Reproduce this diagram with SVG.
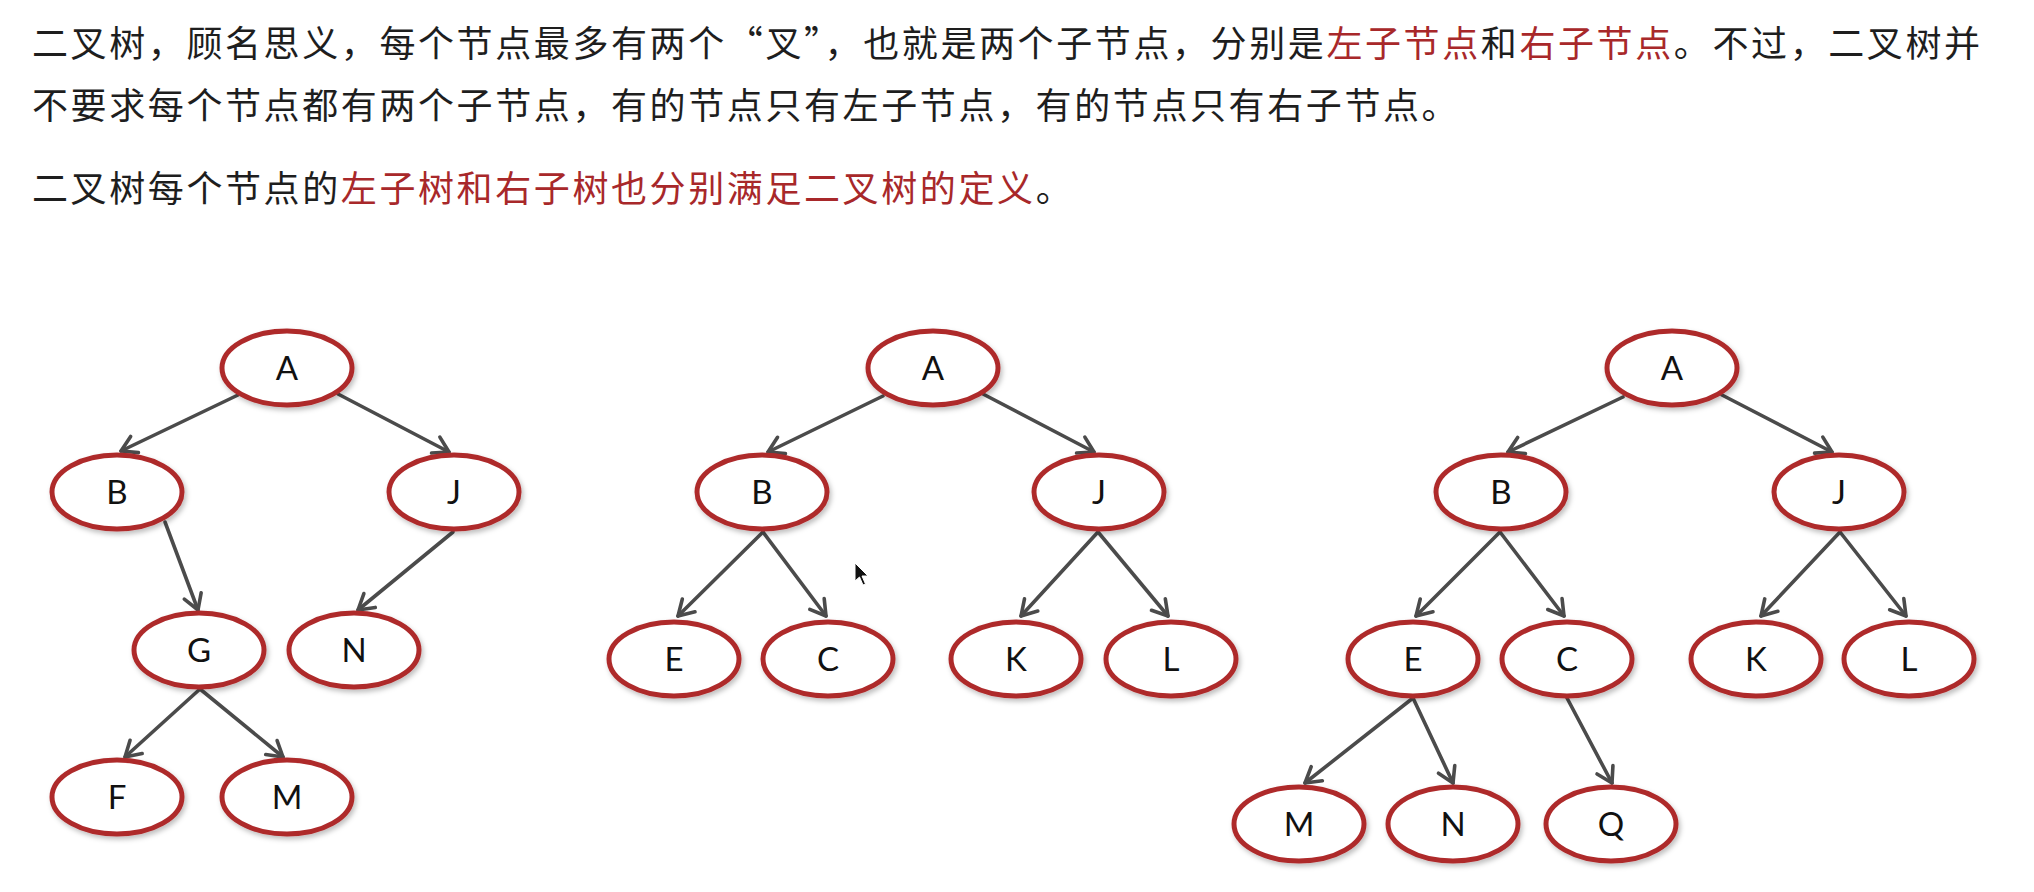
<svg xmlns="http://www.w3.org/2000/svg" width="2034" height="892" viewBox="0 0 2034 892">
<style>
.para{font-family:"Noto Sans CJK SC","Noto Sans",sans-serif;font-size:36px;letter-spacing:2.6px;fill:#1e1e1e}
.red{fill:#a8282a}
.node ellipse{fill:#ffffff;stroke:#ae2a2c;stroke-width:5;filter:url(#sh)}
.node text{font-family:Lato,"Open Sans",sans-serif;font-size:33px;fill:#111;text-anchor:middle}
.edge{stroke:#4b4b4b;stroke-width:3.6;fill:none;stroke-linecap:round;marker-end:url(#arr)}
</style>
<defs>
<filter id="sh" x="-20%" y="-20%" width="140%" height="150%">
<feDropShadow dx="2" dy="3" stdDeviation="2.5" flood-color="#000" flood-opacity="0.25"/>
</filter>
<marker id="arr" markerUnits="userSpaceOnUse" markerWidth="26" markerHeight="26" viewBox="-19 -13 26 26" refX="0" refY="0" orient="auto">
<path d="M -15 -9 L 0 0 L -15 9" fill="none" stroke="#4b4b4b" stroke-width="3.6" stroke-linecap="round" stroke-linejoin="round"/>
</marker>
</defs>
<rect width="2034" height="892" fill="#ffffff"/>

<g id="text">
<text class="para" x="32" y="57">二叉树，顾名思义，每个节点最多有两个“叉”，也就是两个子节点，分别是<tspan class="red">左子节点</tspan>和<tspan class="red">右子节点</tspan>。不过，二叉树并</text>
<text class="para" x="32" y="119">不要求每个节点都有两个子节点，有的节点只有左子节点，有的节点只有右子节点。</text>
<text class="para" x="32" y="202">二叉树每个节点的<tspan class="red">左子树和右子树也分别满足二叉树的定义</tspan>。</text>
</g>

<g id="connectors">
<line class="edge" x1="238" y1="395" x2="121" y2="451"/>
<line class="edge" x1="338" y1="394" x2="449" y2="452"/>
<line class="edge" x1="165" y1="522" x2="198" y2="610"/>
<line class="edge" x1="453" y1="532" x2="358" y2="610"/>
<line class="edge" x1="200" y1="689" x2="125" y2="757"/>
<line class="edge" x1="200" y1="689" x2="283" y2="757"/>

<line class="edge" x1="883" y1="396" x2="768" y2="452"/>
<line class="edge" x1="983" y1="394" x2="1094" y2="452"/>
<line class="edge" x1="763" y1="532" x2="678" y2="616"/>
<line class="edge" x1="763" y1="532" x2="826" y2="616"/>
<line class="edge" x1="1098" y1="532" x2="1021" y2="616"/>
<line class="edge" x1="1098" y1="532" x2="1168" y2="616"/>

<line class="edge" x1="1623" y1="397" x2="1508" y2="452"/>
<line class="edge" x1="1722" y1="395" x2="1832" y2="452"/>
<line class="edge" x1="1500" y1="532" x2="1416" y2="616"/>
<line class="edge" x1="1500" y1="532" x2="1564" y2="616"/>
<line class="edge" x1="1840" y1="532" x2="1761" y2="616"/>
<line class="edge" x1="1840" y1="532" x2="1906" y2="616"/>
<line class="edge" x1="1413" y1="698" x2="1305" y2="783"/>
<line class="edge" x1="1413" y1="698" x2="1453" y2="783"/>
<line class="edge" x1="1567" y1="698" x2="1612" y2="783"/>
</g>

<g id="t1-A" class="node"><ellipse cx="287" cy="368" rx="65" ry="37"/><text x="287" y="380">A</text></g>
<g id="t1-B" class="node"><ellipse cx="117" cy="492" rx="65" ry="37"/><text x="117" y="504">B</text></g>
<g id="t1-J" class="node"><ellipse cx="454" cy="492" rx="65" ry="37"/><text x="454" y="504">J</text></g>
<g id="t1-G" class="node"><ellipse cx="199" cy="650" rx="65" ry="37"/><text x="199" y="662">G</text></g>
<g id="t1-N" class="node"><ellipse cx="354" cy="650" rx="65" ry="37"/><text x="354" y="662">N</text></g>
<g id="t1-F" class="node"><ellipse cx="117" cy="797" rx="65" ry="37"/><text x="117" y="809">F</text></g>
<g id="t1-M" class="node"><ellipse cx="287" cy="797" rx="65" ry="37"/><text x="287" y="809">M</text></g>

<g id="t2-A" class="node"><ellipse cx="933" cy="368" rx="65" ry="37"/><text x="933" y="380">A</text></g>
<g id="t2-B" class="node"><ellipse cx="762" cy="492" rx="65" ry="37"/><text x="762" y="504">B</text></g>
<g id="t2-J" class="node"><ellipse cx="1099" cy="492" rx="65" ry="37"/><text x="1099" y="504">J</text></g>
<g id="t2-E" class="node"><ellipse cx="674" cy="659" rx="65" ry="37"/><text x="674" y="671">E</text></g>
<g id="t2-C" class="node"><ellipse cx="828" cy="659" rx="65" ry="37"/><text x="828" y="671">C</text></g>
<g id="t2-K" class="node"><ellipse cx="1016" cy="659" rx="65" ry="37"/><text x="1016" y="671">K</text></g>
<g id="t2-L" class="node"><ellipse cx="1171" cy="659" rx="65" ry="37"/><text x="1171" y="671">L</text></g>

<g id="t3-A" class="node"><ellipse cx="1672" cy="368" rx="65" ry="37"/><text x="1672" y="380">A</text></g>
<g id="t3-B" class="node"><ellipse cx="1501" cy="492" rx="65" ry="37"/><text x="1501" y="504">B</text></g>
<g id="t3-J" class="node"><ellipse cx="1839" cy="492" rx="65" ry="37"/><text x="1839" y="504">J</text></g>
<g id="t3-E" class="node"><ellipse cx="1413" cy="659" rx="65" ry="37"/><text x="1413" y="671">E</text></g>
<g id="t3-C" class="node"><ellipse cx="1567" cy="659" rx="65" ry="37"/><text x="1567" y="671">C</text></g>
<g id="t3-K" class="node"><ellipse cx="1756" cy="659" rx="65" ry="37"/><text x="1756" y="671">K</text></g>
<g id="t3-L" class="node"><ellipse cx="1909" cy="659" rx="65" ry="37"/><text x="1909" y="671">L</text></g>
<g id="t3-M" class="node"><ellipse cx="1299" cy="824" rx="65" ry="37"/><text x="1299" y="836">M</text></g>
<g id="t3-N" class="node"><ellipse cx="1453" cy="824" rx="65" ry="37"/><text x="1453" y="836">N</text></g>
<g id="t3-Q" class="node"><ellipse cx="1611" cy="824" rx="65" ry="37"/><text x="1611" y="836">Q</text></g>

<path id="cursor" d="M855 563 L855 581 L859.5 577 L863 585 L865.5 584 L862 576 L868 576 Z" fill="#111" stroke="#fff" stroke-width="1"/>
</svg>
